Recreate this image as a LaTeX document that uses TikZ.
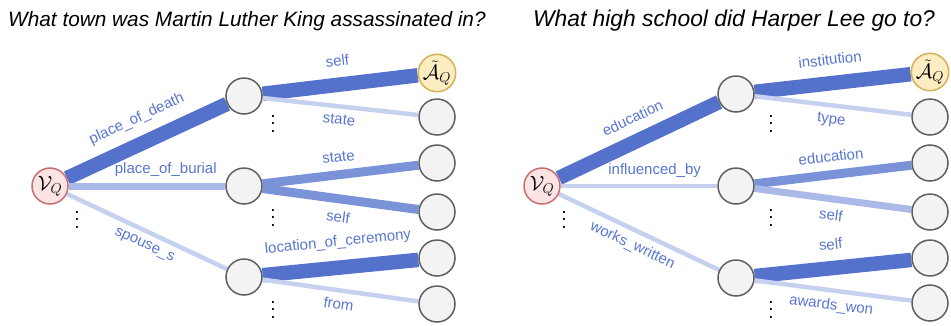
\documentclass[tikz,border=0pt]{standalone}
\usepackage{fontspec}
\setmainfont{Liberation Sans}
\usepackage{amsmath}
\usepackage{amssymb}
\usetikzlibrary{backgrounds}
\definecolor{relstrong}{RGB}{84,114,204}
\definecolor{relmid}{RGB}{122,146,216}
\definecolor{relsoft}{RGB}{170,185,232}
\definecolor{relweak}{RGB}{198,208,239}
\definecolor{labelblue}{RGB}{88,118,208}
\definecolor{entfill}{RGB}{243,243,243}
\definecolor{entdraw}{RGB}{95,95,95}
\definecolor{topicfill}{RGB}{253,228,228}
\definecolor{topicdraw}{RGB}{200,112,112}
\definecolor{answerfill}{RGB}{252,238,194}
\definecolor{answerdraw}{RGB}{214,176,84}
\tikzset{
  entity/.style={circle, draw=entdraw, fill=entfill, line width=1.5pt,
                 minimum size=36pt, inner sep=0pt},
  topic/.style={entity, draw=topicdraw, fill=topicfill, font=\huge},
  answer/.style={entity, draw=answerdraw, fill=answerfill, font=\huge},
  strong/.style={draw=relstrong, line width=14.5pt},
  middling/.style={draw=relmid, line width=9pt},
  soft/.style={draw=relsoft, line width=7pt},
  weak/.style={draw=relweak, line width=4.5pt},
  rel label/.style={text=labelblue, font=\fontsize{15}{18}\selectfont,
                    inner sep=1pt, sloped},
  question/.style={font=\itshape, anchor=base west, inner sep=0pt},
  more/.style={scale=1.9, inner sep=0pt}
}
\def\Rel#1#2#3#4#5{%
  \draw[#3] (#1) -- node[rel label, #5] {#4} (#2);
}

\begin{document}
\begin{tikzpicture}[x=1pt, y=-1pt]
\useasboundingbox (0,0) rectangle (951,325);
% left question
\node[question] (q1) at (8,26)
  {\fontsize{20.8}{24}\selectfont What town was Martin Luther King assassinated in?};
\node[topic] (vq1) at (50,186) {$\mathcal{V}_Q$};
\node[entity] (m1a) at (244,96) {};
\node[entity] (m1b) at (244,186) {};
\node[entity] (m1c) at (244,277) {};
\node[answer] (r1a) at (437,73) {$\tilde{\mathcal{A}}_Q$};
\node[entity] (r1b) at (437,117) {};
\node[entity] (r1c) at (437,163) {};
\node[entity] (r1d) at (437,212) {};
\node[entity] (r1e) at (437,258) {};
\node[entity] (r1f) at (437,304) {};
\node[more] (d1) at (77,214) {$\vdots$};
\node[more] (d1a) at (273,118) {$\vdots$};
\node[more] (d1b) at (273,212) {$\vdots$};
\node[more] (d1c) at (273,304) {$\vdots$};
\begin{scope}[on background layer]
  \Rel{vq1}{m1a}{strong}{place\_of\_death}{above=9pt}
  \Rel{vq1}{m1b}{soft}{place\_of\_burial}{above=5pt, pos=0.62}
  \Rel{vq1}{m1c}{weak}{spouse\_s}{below=5pt, pos=0.52}
  \Rel{m1a}{r1a}{strong}{self}{above=10pt}
  \Rel{m1a}{r1b}{weak}{state}{below=5pt}
  \Rel{m1b}{r1c}{middling}{state}{above=7pt}
  \Rel{m1b}{r1d}{middling}{self}{below=7pt}
  \Rel{m1c}{r1e}{strong}{location\_of\_ceremony}{above=10pt}
  \Rel{m1c}{r1f}{weak}{from}{below=5pt}
\end{scope}
% right question
\node[question] (q2) at (533,26)
  {\fontsize{22.8}{26}\selectfont What high school did Harper Lee go to?};
\node[topic] (vq2) at (542,186) {$\mathcal{V}_Q$};
\node[entity] (m2a) at (736,94) {};
\node[entity] (m2b) at (736,186) {};
\node[entity] (m2c) at (736,278) {};
\node[answer] (r2a) at (930,72) {$\tilde{\mathcal{A}}_Q$};
\node[entity] (r2b) at (930,117) {};
\node[entity] (r2c) at (930,163) {};
\node[entity] (r2d) at (930,212) {};
\node[entity] (r2e) at (930,258) {};
\node[entity] (r2f) at (930,303) {};
\node[more] (d2) at (564,214) {$\vdots$};
\node[more] (d2a) at (771,118) {$\vdots$};
\node[more] (d2b) at (771,212) {$\vdots$};
\node[more] (d2c) at (771,304) {$\vdots$};
\begin{scope}[on background layer]
  \Rel{vq2}{m2a}{strong}{education}{above=9pt, pos=0.52}
  \Rel{vq2}{m2b}{weak}{influenced\_by}{above=5pt, pos=0.6}
  \Rel{vq2}{m2c}{weak}{works\_written}{below=5pt}
  \Rel{m2a}{r2a}{strong}{institution}{above=10pt}
  \Rel{m2a}{r2b}{weak}{type}{below=5pt}
  \Rel{m2b}{r2c}{middling}{education}{above=7pt}
  \Rel{m2b}{r2d}{soft}{self}{below=6pt}
  \Rel{m2c}{r2e}{strong}{self}{above=10pt}
  \Rel{m2c}{r2f}{weak}{awards\_won}{below=5pt}
\end{scope}
\end{tikzpicture}
\end{document}
